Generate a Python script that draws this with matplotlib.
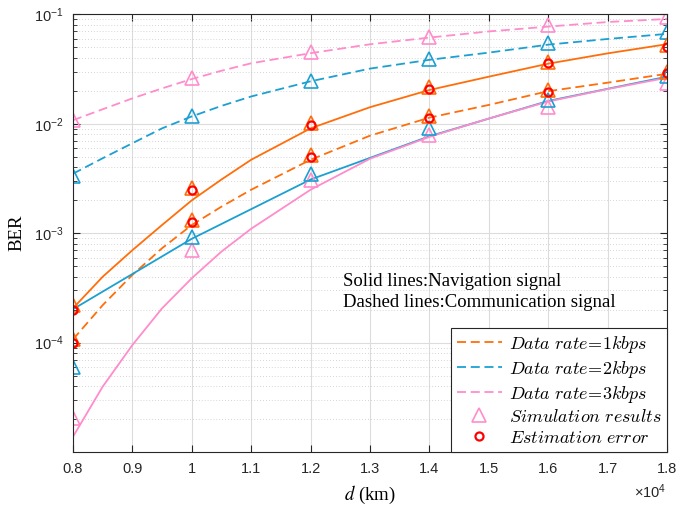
import matplotlib
matplotlib.use("Agg")
import matplotlib.pyplot as plt
from matplotlib.ticker import FuncFormatter, LogLocator, NullFormatter
from matplotlib.lines import Line2D

plt.rcParams['font.family'] = ['Liberation Sans', 'DejaVu Sans']
plt.rcParams['mathtext.fontset'] = 'custom'
plt.rcParams['mathtext.rm'] = 'Liberation Sans'
plt.rcParams['mathtext.it'] = 'Liberation Sans:italic'

# ---------------- data ----------------
# theoretical curves
d_curve = [8000, 8500, 9000, 9500, 10000, 10500, 11000, 12000, 13000, 14000, 15000, 16000, 17000, 18000]
nav_1k_curve = [2.06e-4, 4.0e-4, 7.0e-4, 1.19e-3, 2.0e-3, 3.1e-3, 4.7e-3, 9.1e-3, 1.42e-2, 2.04e-2, 2.7e-2, 3.55e-2, 4.41e-2, 5.35e-2]
com_1k_curve = [1.07e-4, 2.2e-4, 4.16e-4, 7.3e-4, 1.19e-3, 1.75e-3, 2.5e-3, 4.7e-3, 7.8e-3, 1.14e-2, 1.49e-2, 1.99e-2, 2.38e-2, 2.87e-2]
nav_3k_curve = [1.38e-5, 3.96e-5, 9.5e-5, 2.06e-4, 3.88e-4, 6.8e-4, 1.1e-3, 2.5e-3, 4.8e-3, 7.6e-3, 1.12e-2, 1.6e-2, 2.08e-2, 2.64e-2]
com_2k_curve = [3.5e-3, 4.85e-3, 6.65e-3, 9.1e-3, 1.17e-2, 1.46e-2, 1.78e-2, 2.45e-2, 3.2e-2, 3.85e-2, 4.48e-2, 5.3e-2, 5.97e-2, 6.65e-2]
com_3k_curve = [1.08e-2, 1.36e-2, 1.71e-2, 2.11e-2, 2.57e-2, 3.06e-2, 3.58e-2, 4.43e-2, 5.34e-2, 6.15e-2, 7.0e-2, 7.75e-2, 8.53e-2, 9.1e-2]

# navigation 2 kbps curve (only drawn through the simulation distances)
d_pts = [8000, 10000, 12000, 14000, 16000, 18000]
nav_2k_curve = [2.02e-4, 8.9e-4, 3.1e-3, 7.7e-3, 1.62e-2, 2.7e-2]

# simulation results (triangles)
sim_nav_1k = [2.2e-4, 2.6e-3, 1.02e-2, 2.17e-2, 3.7e-2, 5.3e-2]
sim_com_1k = [1.07e-4, 1.33e-3, 5.2e-3, 1.17e-2, 2.03e-2, 3.0e-2]
sim_nav_2k = [6.0e-5, 9.2e-4, 3.5e-3, 9.1e-3, 1.65e-2, 2.74e-2]
sim_com_2k = [3.37e-3, 1.19e-2, 2.48e-2, 3.92e-2, 5.52e-2, 6.87e-2]
sim_nav_3k = [2.04e-5, 7.0e-4, 3.07e-3, 7.9e-3, 1.435e-2, 2.35e-2]
sim_com_3k = [1.08e-2, 2.61e-2, 4.51e-2, 6.26e-2, 8.0e-2, 9.42e-2]

# estimation error (circles)
est_nav_1k = [2.0e-4, 2.49e-3, 9.77e-3, 2.09e-2, 3.58e-2, 5.08e-2]
est_com_1k = [1.0e-4, 1.28e-3, 5.0e-3, 1.125e-2, 1.95e-2, 2.9e-2]

legend_labels = [r'$Data\ rate\!=\!1kbps$', r'$Data\ rate\!=\!2kbps$', r'$Data\ rate\!=\!3kbps$',
                 r'$Simulation\ results$', r'$Estimation\ error$']
x_ticks = [8000, 9000, 10000, 11000, 12000, 13000, 14000, 15000, 16000, 17000, 18000]
y_ticks = [1e-4, 1e-3, 1e-2, 1e-1]

# ---------------- style ----------------
C_OR = '#FF6E0A'
C_BL = '#1CA0D2'
C_PK = '#FF8CCB'
C_RED = '#FF0000'
LW = 1.3
DASH = (0, (5, 2.6))
TRI = dict(marker='^', ms=9.5, mfc='none', mew=1.2, ls='none')
CIR = dict(marker='o', ms=5.8, mfc='none', mew=1.6, ls='none', color=C_RED)

fig = plt.figure(figsize=(6.91, 5.08), dpi=100)
ax = fig.add_axes([0.1056, 0.1102, 0.8597, 0.8613])

ax.plot(d_curve, nav_1k_curve, color=C_OR, lw=LW)
ax.plot(d_curve, com_1k_curve, color=C_OR, lw=LW, ls=DASH)
ax.plot(d_pts, nav_2k_curve, color=C_BL, lw=LW)
ax.plot(d_curve, com_2k_curve, color=C_BL, lw=LW, ls=DASH)
ax.plot(d_curve, nav_3k_curve, color=C_PK, lw=LW)
ax.plot(d_curve, com_3k_curve, color=C_PK, lw=LW, ls=DASH)

ax.plot(d_pts, sim_nav_3k, color=C_PK, **TRI)
ax.plot(d_pts, sim_com_3k, color=C_PK, **TRI)
ax.plot(d_pts, sim_nav_2k, color=C_BL, **TRI)
ax.plot(d_pts, sim_com_2k, color=C_BL, **TRI)
ax.plot(d_pts, sim_nav_1k, color=C_OR, **TRI)
ax.plot(d_pts, sim_com_1k, color=C_OR, **TRI)
ax.plot(d_pts, est_nav_1k, **CIR)
ax.plot(d_pts, est_com_1k, **CIR)

ax.set_yscale('log')
ax.set_xlim(8000, 18000)
ax.set_ylim(1e-5, 1e-1)
ax.set_xticks(x_ticks)
ax.xaxis.set_major_formatter(FuncFormatter(lambda v, p: '%g' % (v / 1e4)))
ax.set_yticks(y_ticks)
ax.yaxis.set_minor_locator(LogLocator(base=10, subs=range(2, 10)))
ax.yaxis.set_minor_formatter(NullFormatter())

ax.tick_params(which='both', direction='in', top=True, right=True, labelsize=10.5, colors='#262626')
ax.tick_params(which='major', length=5, width=0.8, pad=7)
ax.tick_params(which='minor', length=3, width=0.6)
ax.tick_params(axis='x', which='minor', top=False, bottom=False)
for s in ax.spines.values():
    s.set_color('#262626')
    s.set_linewidth(0.8)

ax.grid(True, which='major', color='#DCDCDC', lw=0.8, ls='-')
ax.grid(True, which='minor', axis='y', color='#C8C8C8', lw=0.6, ls=(0, (1, 2.5)))
ax.set_axisbelow(True)

ax.set_ylabel('BER', fontfamily='Liberation Serif', fontsize=13.5, labelpad=6)
xl = ax.set_xlabel(r'$d$ (km)', fontfamily='Liberation Serif', fontsize=13.5, labelpad=6)
xl.set_math_fontfamily('stix')

ax.text(0.9995, -0.09, r'$\times10^{4}$', transform=ax.transAxes, ha='right', va='center',
        fontsize=10.5, color='#262626')

ax.text(0.454, 0.389, 'Solid lines:Navigation signal', transform=ax.transAxes,
        fontfamily='Liberation Serif', fontsize=13.5, va='center', ha='left')
ax.text(0.454, 0.341, 'Dashed lines:Communication signal', transform=ax.transAxes,
        fontfamily='Liberation Serif', fontsize=13.5, va='center', ha='left')

handles = [Line2D([], [], color=C_OR, lw=LW, ls=DASH),
           Line2D([], [], color=C_BL, lw=LW, ls=DASH),
           Line2D([], [], color=C_PK, lw=LW, ls=DASH),
           Line2D([], [], color=C_PK, **TRI),
           Line2D([], [], **CIR)]
leg = ax.legend(handles, legend_labels, loc='lower right', bbox_to_anchor=(1, 0),
                borderaxespad=0, fancybox=False, framealpha=1, edgecolor='#262626',
                fontsize=13, handlelength=2.5, handletextpad=0.4, labelspacing=0.22,
                borderpad=0.3)
leg.get_frame().set_linewidth(0.8)
for t in leg.get_texts():
    t.set_math_fontfamily('cm')

fig.savefig('out.png', dpi=100)
